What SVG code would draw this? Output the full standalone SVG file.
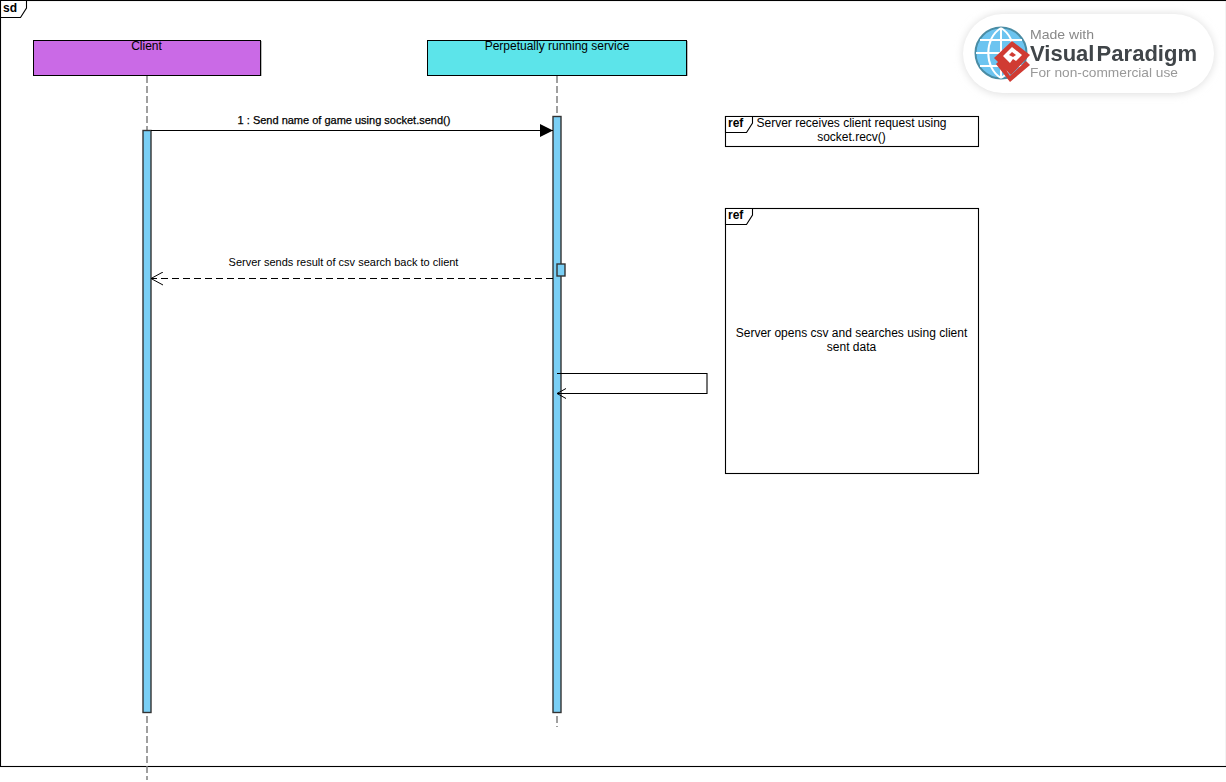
<svg xmlns="http://www.w3.org/2000/svg" width="1226" height="782" viewBox="0 0 1226 782">
<style>
text{font-family:"Liberation Sans",Arial,sans-serif;fill:#000}
.t12{font-size:12px;text-anchor:middle}
.t11{font-size:11px;text-anchor:middle}
.heavy{stroke:#000;stroke-width:.25}
.b{font-size:12px;font-weight:bold}
.frame{fill:#fff;stroke:#000;stroke-width:1.1}
.life{stroke:#808080;stroke-width:1.5;stroke-dasharray:7 3;fill:none}
.act{fill:#7acff5;stroke:#333;stroke-width:1.4}
.msg{stroke:#000;stroke-width:1.1;fill:none}
</style>
<defs>
<marker id="solid" markerUnits="userSpaceOnUse" markerWidth="14" markerHeight="14" refX="13" refY="7" orient="auto"><path d="M0 .5L13 7L0 13.500Z" fill="#000"/></marker>
<marker id="open" markerUnits="userSpaceOnUse" markerWidth="14" markerHeight="14" refX="13" refY="7" orient="auto"><path d="M1 .5L13 7L1 13.500" fill="none" stroke="#000"/></marker>
<marker id="opens" markerUnits="userSpaceOnUse" markerWidth="12" markerHeight="12" refX="10" refY="6" orient="auto"><path d="M1 1L10 6L1 11" fill="none" stroke="#000"/></marker>
<filter id="soft" x="-20%" y="-40%" width="140%" height="180%"><feGaussianBlur stdDeviation="4"/></filter>
<filter id="blur" x="-5%" y="-5%" width="110%" height="110%"><feGaussianBlur stdDeviation="0.5"/></filter>
</defs>
<rect width="1226" height="782" fill="#fff"/>
<g id="sd-frame">
<rect class="frame" x="0.500" y="0.500" width="1226" height="766" style="fill:none"/>
<path class="frame" d="M0.500 0.500H26.500V8L20.500 17.500H0.500Z"/>
<text class="b" x="3" y="12">sd</text>
</g>
<g id="lifeline-client">
<line class="life" x1="147" y1="76" x2="147" y2="780"/>
<rect x="34" y="41" width="228" height="35" fill="#bbb"/>
<rect x="33.500" y="40.500" width="227" height="35" fill="#ca6ae6" stroke="#000"/>
<text class="t12" x="146.500" y="50">Client</text>
</g>
<g id="lifeline-service">
<line class="life" x1="557" y1="76" x2="557" y2="727"/>
<rect x="428" y="41" width="260" height="35" fill="#bbb"/>
<rect x="427.500" y="40.500" width="259" height="35" fill="#5ce4ea" stroke="#000"/>
<text class="t12" x="557" y="50">Perpetually running service</text>
</g>
<g id="activation-client"><rect class="act" x="143" y="130.500" width="8" height="582"/></g>
<g id="activation-service"><rect class="act" x="553" y="116.500" width="8" height="596"/></g>
<g id="activation-service-nested"><rect class="act" x="557" y="264" width="8" height="12"/></g>
<g id="connectors">
<line class="msg" x1="151" y1="130.500" x2="553" y2="130.500" marker-end="url(#solid)"/>
<line class="msg" x1="553" y1="278.500" x2="151" y2="278.500" stroke-dasharray="7 4" marker-end="url(#open)"/>
<path class="msg" d="M557 373.500H707V393.500H557" marker-end="url(#opens)"/>
</g>
<g id="message-labels">
<text class="t11 heavy" x="344" y="124">1 : Send name of game using socket.send()</text>
<text class="t11" x="343.500" y="266">Server sends result of csv search back to client</text>
</g>
<g id="ref-receive">
<rect class="frame" x="725.500" y="116.500" width="253" height="30"/>
<path class="frame" d="M725.500 116.500H752.500V123L746.500 132.500H725.500Z"/>
<text class="b" x="728" y="127">ref</text>
<text class="t12" x="851.500" y="127">Server receives client request using</text>
<text class="t12" x="851.500" y="141">socket.recv()</text>
</g>
<g id="ref-search">
<rect class="frame" x="725.500" y="208.500" width="253" height="265"/>
<path class="frame" d="M725.500 208.500H752.500V215L746.500 224.500H725.500Z"/>
<text class="b" x="728" y="219">ref</text>
<text class="t12" x="851.500" y="337">Server opens csv and searches using client</text>
<text class="t12" x="851.500" y="351">sent data</text>
</g>
<g id="watermark">
<rect x="963" y="14" width="251" height="80" rx="40" fill="#ddd" filter="url(#soft)"/>
<rect x="963" y="14" width="251" height="79" rx="39.500" fill="#fff"/>
<g filter="url(#blur)">
<circle cx="1001" cy="53" r="25.500" fill="#6cc4f0" stroke="#4a8ca4" stroke-width="2"/>
<path d="M976 53H1026M1001 28V78M980 40H1022M980 66H1022M1001 28C984 38 984 68 1001 78M1001 28C1018 38 1018 68 1001 78" fill="none" stroke="#fff" stroke-width="2"/>
<path d="M996 64L1010 82L1030 65L1026 61L1010 76L1000 60Z" fill="#d03a32"/>
<path d="M994 58L1012 41L1030 55L1011 75Z" fill="#d03a32"/>
<path d="M1003 56L1012 47L1022 55L1016 61L1013 59L1010 63Z" fill="#fff"/>
<path d="M1009 55L1012 52L1016 55L1013 57Z" fill="#d03a32"/>
<text x="1030" y="39" style="font-size:13px;fill:#888" textLength="64" lengthAdjust="spacingAndGlyphs">Made with</text>
<text x="1030" y="61" style="font-size:22px;font-weight:bold;fill:#3f4448;word-spacing:-4px" textLength="167" lengthAdjust="spacingAndGlyphs">Visual Paradigm</text>
<text x="1030" y="77" style="font-size:13px;fill:#999" textLength="148" lengthAdjust="spacingAndGlyphs">For non-commercial use</text>
</g>
</g>
</svg>
